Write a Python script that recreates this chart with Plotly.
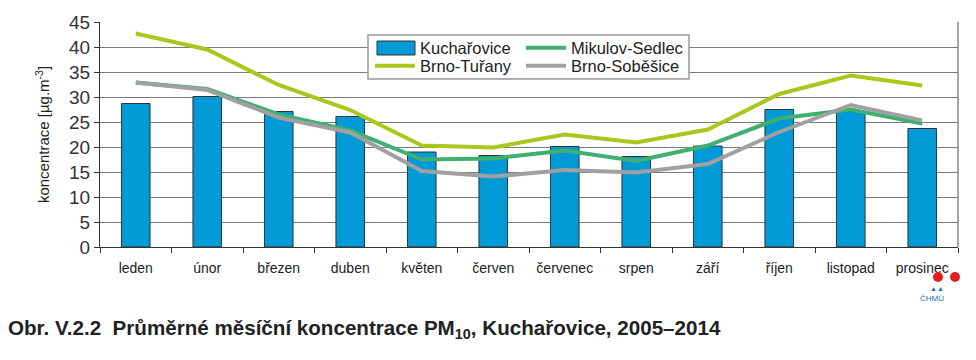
import plotly.graph_objects as go

months = ["leden", "únor", "březen", "duben", "květen", "červen", "červenec",
          "srpen", "září", "říjen", "listopad", "prosinec"]
kucharovice = [28.7, 30.1, 27.1, 26.1, 19.0, 18.3, 20.1, 18.1, 20.2, 27.5, 27.1, 23.7]
mikulov = [32.9, 31.6, 26.5, 23.3, 17.5, 17.7, 19.3, 17.2, 20.3, 25.7, 27.5, 24.7]
turany = [42.7, 39.5, 32.4, 27.4, 20.3, 19.9, 22.5, 20.9, 23.5, 30.6, 34.3, 32.3]
sobesice = [32.9, 31.4, 25.9, 22.9, 15.2, 14.1, 15.4, 14.9, 16.6, 23.0, 28.4, 25.3]
yticks = [0, 5, 10, 15, 20, 25, 30, 35, 40, 45]

OFF = 8  # page body margin
PL, PR, PT, PB = 100, 958, 22, 247  # plot area in screenshot pixels
PW, PH = PR - PL, PB - PT


def px(x):
    return (x - PL) / PW


def py(y):
    return (PB - y) / PH


fig = go.Figure()
fig.add_trace(go.Bar(x=months, y=kucharovice, name="Kuchařovice", showlegend=False,
                     marker=dict(color="#009ad6", line=dict(color="#333333", width=1))))
fig.add_trace(go.Scatter(x=months, y=mikulov, name="Mikulov-Sedlec", mode="lines", legend="legend2",
                         line=dict(color="#40b070", width=4)))
fig.add_trace(go.Scatter(x=months, y=sobesice, name="Brno-Soběšice", mode="lines", legend="legend4",
                         line=dict(color="#a0a0a0", width=4)))
fig.add_trace(go.Scatter(x=months, y=turany, name="Brno-Tuřany", mode="lines", legend="legend3",
                         line=dict(color="#a8c81e", width=4)))

legfont = dict(size=16.5, color="#222222", family="Liberation Sans, Arial, sans-serif")


def leg(x, y):
    return dict(x=px(x), y=py(y), xanchor="left", yanchor="middle",
                bgcolor="rgba(0,0,0,0)", borderwidth=0, font=legfont,
                tracegroupgap=0, itemwidth=40)


fig.update_layout(
    width=976, height=360,
    margin=dict(l=PL - OFF, r=976 - (PR - OFF), t=PT - OFF, b=360 - (PB - OFF)),
    paper_bgcolor="white", plot_bgcolor="white",
    font=dict(family="Liberation Sans, Arial, sans-serif", color="#222222"),
    bargap=0.6,
    showlegend=True,
    legend2=leg(521, 48),
    legend3=leg(370, 66),
    legend4=leg(521, 66),
)
fig.update_xaxes(type="category", tickson="boundaries", ticks="outside", ticklen=5,
                 tickcolor="#333333", showline=True, linecolor="#333333", linewidth=1,
                 showgrid=False, tickfont=dict(size=14, color="#222222"),
                 tickangle=0, automargin=False, ticklabelstandoff=8)
fig.update_yaxes(range=[0, 45], tickvals=yticks, ticks="outside", ticklen=5,
                 tickcolor="#333333", showline=True, linecolor="#333333", linewidth=1,
                 showgrid=True, gridcolor="#7a7a7a", gridwidth=1, zeroline=False,
                 tickfont=dict(size=19, color="#333333"), automargin=False,
                 title=dict(text="koncentrace [µg.m<sup>-3</sup>]",
                            font=dict(size=15, color="#222222")))
# right border of plot area
fig.add_shape(type="line", xref="paper", yref="paper", x0=1, x1=1, y0=0, y1=1,
              line=dict(color="#888888", width=1.5))
# legend frame (white box over gridlines)
fig.add_shape(type="rect", xref="paper", yref="paper", x0=px(368), x1=px(689),
              y0=py(79), y1=py(35), fillcolor="white", layer="above",
              line=dict(color="#999999", width=1.5))
# bar legend swatch + label
fig.add_shape(type="rect", xref="paper", yref="paper", x0=px(377), x1=px(415),
              y0=py(55), y1=py(41), fillcolor="#009ad6", layer="above",
              line=dict(color="#333333", width=1))
fig.add_annotation(xref="paper", yref="paper", x=px(418), y=py(48), xanchor="left",
                   yanchor="middle", text="Kuchařovice", showarrow=False, font=legfont)

# caption
fig.add_annotation(xref="paper", yref="paper", x=px(6), y=py(329), xanchor="left", yanchor="middle",
                   text="<b>Obr. V.2.2  Průměrné měsíční koncentrace PM<sub>10</sub>, Kuchařovice, 2005–2014</b>",
                   showarrow=False,
                   font=dict(size=20.6, family="Liberation Sans, Arial", color="#222222"))
# ČHMÚ logo (approximation)
for cx in (938, 955):
    fig.add_shape(type="circle", xref="paper", yref="paper", x0=px(cx - 5), x1=px(cx + 5),
                  y0=py(282), y1=py(272), fillcolor="#e02020", line=dict(width=0))
fig.add_annotation(xref="paper", yref="paper", x=px(946), y=py(288), text="▲▲",
                   showarrow=False, font=dict(size=7, color="#1a6fc0"), yanchor="middle")
fig.add_annotation(xref="paper", yref="paper", x=px(946), y=py(298), text="ČHMÚ",
                   showarrow=False, font=dict(size=8, color="#1a6fc0"), yanchor="middle")

fig.write_html("out.html")
